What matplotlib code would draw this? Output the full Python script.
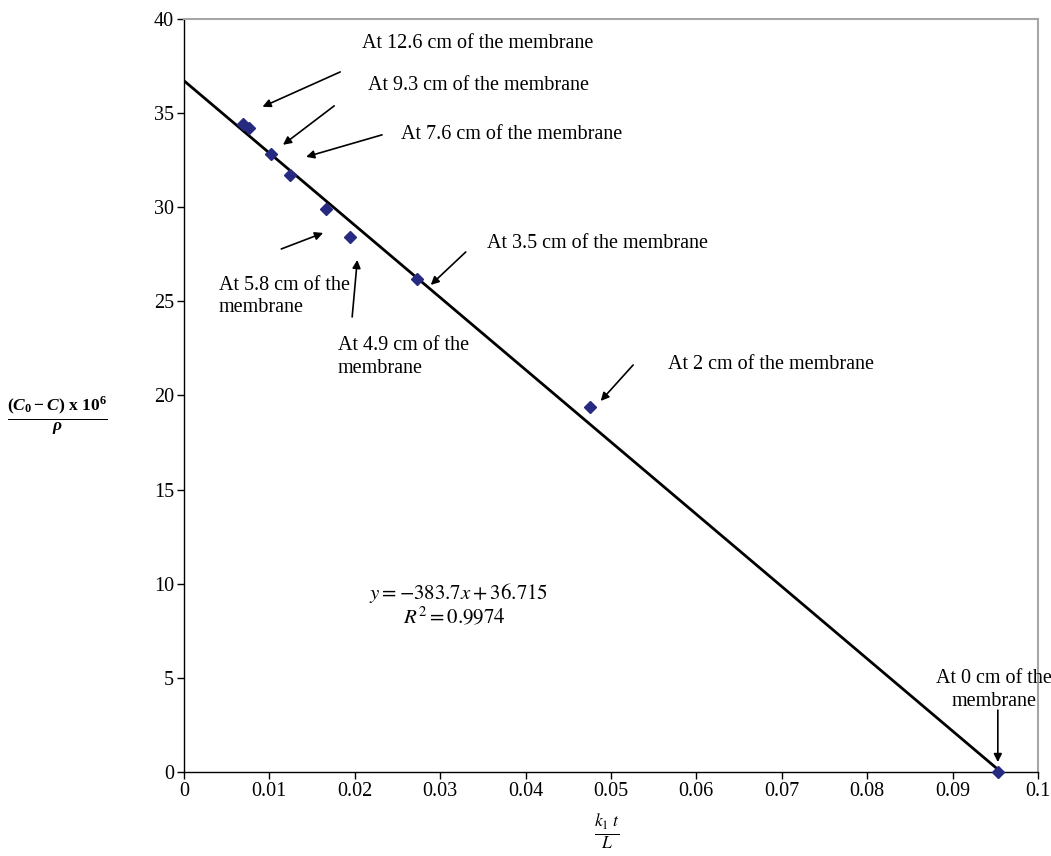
import numpy as np
from matplotlib import pyplot as plt

# data
kt_L = [0.0069, 0.0076, 0.0102, 0.0124, 0.0166, 0.0194, 0.0273, 0.0475, 0.0953]
conc = [34.4, 34.2, 32.8, 31.7, 29.9, 28.4, 26.2, 19.4, 0.0]

slope = -383.7
intercept = 36.715
r2 = 0.9974

x_ticks = [0, 0.01, 0.02, 0.03, 0.04, 0.05, 0.06, 0.07, 0.08, 0.09, 0.1]
x_tick_labels = ["0", "0.01", "0.02", "0.03", "0.04", "0.05", "0.06", "0.07", "0.08", "0.09", "0.1"]
y_ticks = [0, 5, 10, 15, 20, 25, 30, 35, 40]
y_tick_labels = ["0", "5", "10", "15", "20", "25", "30", "35", "40"]

# (label, text pos, arrow tail, arrow head, ha)
notes = [
    ("At 12.6 cm of the membrane", (0.0208, 38.67), (0.0183, 37.18), (0.0092, 35.33), "left"),
    ("At 9.3 cm of the membrane", (0.0216, 36.44), (0.0176, 35.38), (0.0116, 33.31), "left"),
    ("At 7.6 cm of the membrane", (0.0254, 33.84), (0.0232, 33.84), (0.0143, 32.67), "left"),
    ("At 5.8 cm of the\nmembrane", (0.0041, 25.25), (0.0114, 27.78), (0.0163, 28.63), "left"),
    ("At 4.9 cm of the\nmembrane", (0.0180, 22.05), (0.0197, 24.17), (0.0203, 27.20), "left"),
    ("At 3.5 cm of the membrane", (0.0355, 28.05), (0.0330, 27.62), (0.0289, 25.87), "left"),
    ("At 2 cm of the membrane", (0.0567, 21.67), (0.0526, 21.62), (0.0488, 19.71), "left"),
    ("At 0 cm of the\nmembrane", (0.0948, 4.35), (0.0953, 3.29), (0.0953, 0.53), "center"),
]

plt.rcParams["font.family"] = ["Liberation Serif", "DejaVu Serif"]
plt.rcParams["mathtext.fontset"] = "custom"
plt.rcParams["mathtext.rm"] = "Liberation Serif:bold"
plt.rcParams["mathtext.it"] = "Liberation Serif:bold:italic"
plt.rcParams["mathtext.bf"] = "Liberation Serif:bold"

fig = plt.figure(figsize=(10.51, 8.56), dpi=100)
ax = fig.add_axes([0.175, 0.098, 0.8126, 0.88])

# trendline from the fitted equation
x_line = np.array([0, -intercept / slope])
ax.plot(x_line, slope * x_line + intercept, color="black", lw=2, zorder=2)
ax.plot(kt_L, conc, ls="none", marker="D", ms=6.5, color="#262a80", zorder=3, clip_on=False)

ax.set_xlim(0, 0.1)
ax.set_ylim(0, 40)
ax.set_xticks(x_ticks)
ax.set_xticklabels(x_tick_labels)
ax.set_yticks(y_ticks)
ax.set_yticklabels(y_tick_labels)
ax.tick_params(labelsize=14.5, direction="out", length=5, width=1, pad=2)
for side in ["top", "right"]:
    ax.spines[side].set_color("#a6a6a6")
    ax.spines[side].set_linewidth(1.5)
for side in ["left", "bottom"]:
    ax.spines[side].set_linewidth(1)

for label, txt, tail, head, ha in notes:
    ax.annotate("", xy=head, xytext=tail,
                arrowprops=dict(arrowstyle="-|>", color="black", lw=1.2,
                                mutation_scale=12, shrinkA=0, shrinkB=0))
    ax.text(txt[0], txt[1], label, fontsize=14.5, ha=ha, va="center", linespacing=1.25)

ax.text(0.0322, 9.51, r"$y = -383.7x + 36.715$", fontsize=15, ha="center", va="center",
        math_fontfamily="stix")
ax.text(0.0317, 8.23, r"$R^2 = %.4f$" % r2, fontsize=15, ha="center", va="center",
        math_fontfamily="stix")

fig.text(0.055, 0.514, r"$\frac{(C_0 - C)\ \mathrm{x\ 10^6}}{\rho}$", fontsize=18,
         ha="center", va="center", math_fontfamily="custom")
fig.text(0.578, 0.028, r"$\frac{k_1\ t}{L}$", fontsize=18, ha="center", va="center",
         math_fontfamily="stix")

plt.savefig("out.png", dpi=100)
